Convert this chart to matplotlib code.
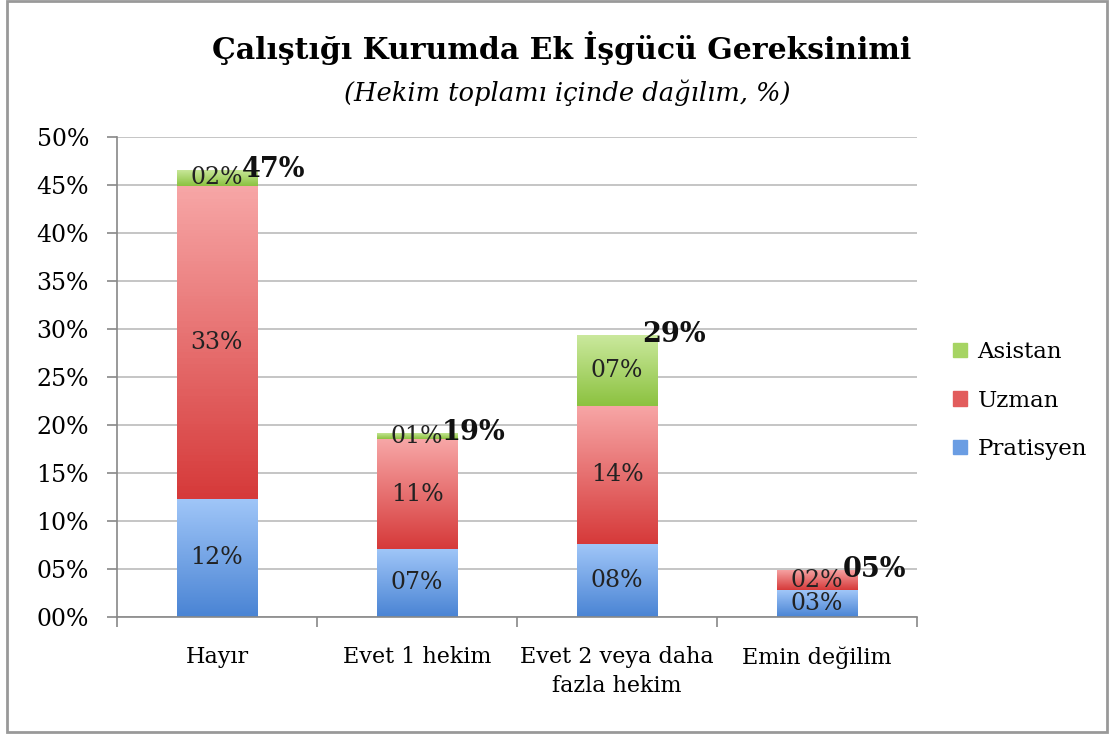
import numpy as np
import matplotlib
matplotlib.use("Agg")
import matplotlib.pyplot as plt
from matplotlib.colors import LinearSegmentedColormap
from matplotlib.patches import Rectangle, Patch

# data (% of all physicians)
categories = ["Hayır", "Evet 1 hekim", "Evet 2 veya daha\nfazla hekim", "Emin değilim"]
pratisyen = [12.3, 7.1, 7.6, 2.8]
uzman = [32.6, 11.4, 14.4, 2.1]
asistan = [1.7, 0.7, 7.4, 0.0]
series_names = ["Pratisyen", "Uzman", "Asistan"]

title = "Çalıştığı Kurumda Ek İşgücü Gereksinimi"
subtitle = "(Hekim toplamı içinde dağılım, %)"
yticks = [0, 5, 10, 15, 20, 25, 30, 35, 40, 45, 50]

# (bottom colour, top colour) for the gradient fills
grad = {
    "Pratisyen": ("#4a84d4", "#a0c6f8"),
    "Uzman": ("#d63a3a", "#f7a6a6"),
    "Asistan": ("#8cc240", "#cbe99e"),
}
solid = {"Pratisyen": "#6a9de3", "Uzman": "#e25c5c", "Asistan": "#a6d463"}

plt.rcParams['font.family'] = ['DejaVu Serif']

fig = plt.figure(figsize=(11.13, 7.35), dpi=100)
ax = fig.add_axes([0.105, 0.1605, 0.719, 0.653])

x = np.arange(len(categories))
width = 0.4
bottom = np.zeros(len(categories))
data = {"Pratisyen": pratisyen, "Uzman": uzman, "Asistan": asistan}

for name in series_names:
    vals = np.array(data[name])
    bars = ax.bar(x, vals, width, bottom=bottom, color=solid[name], label=name, zorder=2)
    cmap = LinearSegmentedColormap.from_list(name, grad[name])
    for b, v in zip(bars, vals):
        if v <= 0:
            continue
        x0, y0 = b.get_x(), b.get_y()
        w, h = b.get_width(), b.get_height()
        g = np.linspace(0, 1, 100).reshape(-1, 1)
        im = ax.imshow(g, cmap=cmap, origin="lower", aspect="auto",
                       extent=[x0, x0 + w, y0, y0 + h], zorder=2.5)
        im.set_clip_path(b)
        ax.text(x0 + w / 2, y0 + h / 2, "%02d%%" % round(v), ha="center", va="center",
                fontsize=17, color="#222222", zorder=4)
    bottom = bottom + vals

totals = bottom
for xi, t in zip(x, totals):
    ax.text(xi + 0.285, t, "%02d%%" % round(t), ha="center", va="center",
            fontsize=19.5, fontweight="bold", color="#111111", zorder=5)

ax.set_xlim(-0.5, 3.5)
ax.set_ylim(0, 50)
ax.set_yticks(yticks)
ax.set_yticklabels(["%02d%%" % v for v in yticks], fontsize=17)
ax.set_xticks(x)
ax.set_xticklabels(categories, fontsize=16, linespacing=1.4)
ax.set_xticks(np.arange(-0.5, 4, 1), minor=True)
ax.tick_params(axis="x", which="major", length=0, pad=21)
ax.tick_params(axis="x", which="minor", length=7, color="#888888", width=1.2)
ax.tick_params(axis="y", length=7, color="#888888", width=1.2, pad=13)
ax.yaxis.grid(True, color="#bbbbbb", linewidth=1.2, zorder=0)
ax.set_axisbelow(True)
for s in ["top", "right"]:
    ax.spines[s].set_visible(False)
for s in ["left", "bottom"]:
    ax.spines[s].set_color("#888888")
    ax.spines[s].set_linewidth(1.2)

fig.text(0.505, 0.935, title, ha="center", va="center", fontsize=21.5, fontweight="bold")
fig.text(0.51, 0.874, subtitle, ha="center", va="center", fontsize=18.5, style="italic")

handles = [Patch(color=solid[n]) for n in reversed(series_names)]
fig.legend(handles, list(reversed(series_names)), loc="center left",
           bbox_to_anchor=(0.838, 0.455), frameon=False, fontsize=16.5,
           handlelength=0.6, handleheight=0.6, handletextpad=0.45, labelspacing=1.15)

fig.patches.append(Rectangle((0.006, 0.004), 0.989, 0.994, transform=fig.transFigure,
                             fill=False, edgecolor="#999999", linewidth=2))

fig.savefig("out.png", dpi=100)
